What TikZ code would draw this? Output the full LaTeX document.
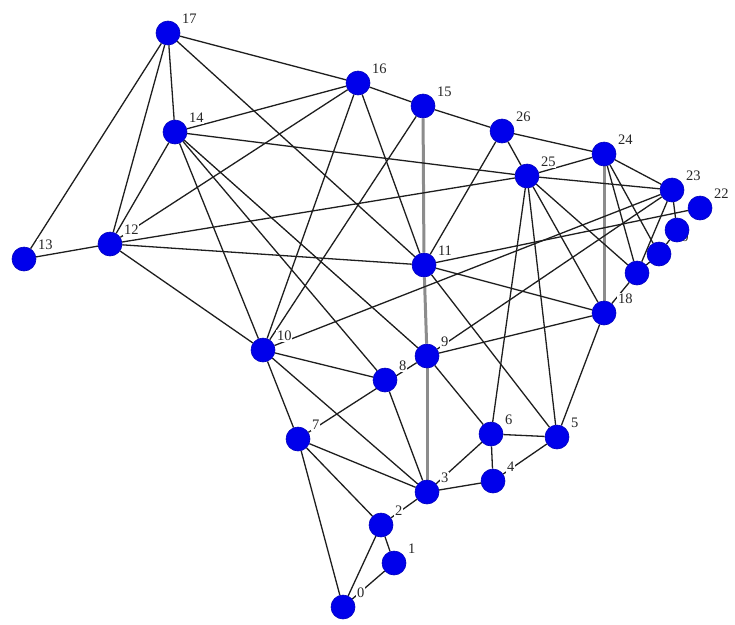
\documentclass[tikz,border=0pt]{standalone}
\usepackage{fontspec}
\setmainfont{Liberation Serif}
\definecolor{vblue}{RGB}{0,0,235}
\definecolor{edgec}{RGB}{30,30,30}
\definecolor{greyc}{RGB}{140,140,140}
\pgfdeclarelayer{bg}
\pgfdeclarelayer{mid}
\pgfsetlayers{bg,mid,main}
\begin{document}
\begin{tikzpicture}[x=1pt,y=-1pt,
  vtx/.style={circle,fill=vblue,draw=vblue!80!black,line width=0.6pt,minimum size=24pt,inner sep=0pt},
  lbl/.style={fill=white,inner sep=0.8pt,anchor=west,font=\fontsize{14.5}{14.5}\selectfont,text=black!85},
  edge/.style={draw=edgec,line width=1.3pt},
  gedge/.style={draw=greyc,line width=3pt}]
\path[use as bounding box] (0,0) rectangle (735,624);
% vertices
\node[vtx] (n0)  at (343,607) {};
\node[vtx] (n1)  at (394,563) {};
\node[vtx] (n2)  at (381,525) {};
\node[vtx] (n3)  at (427,492) {};
\node[vtx] (n4)  at (493,481) {};
\node[vtx] (n5)  at (557,437) {};
\node[vtx] (n6)  at (491,434) {};
\node[vtx] (n7)  at (298,439) {};
\node[vtx] (n8)  at (385,380) {};
\node[vtx] (n9)  at (427,356) {};
\node[vtx] (n10) at (263,350) {};
\node[vtx] (n11) at (424,265) {};
\node[vtx] (n12) at (110,244) {};
\node[vtx] (n13) at (24,259) {};
\node[vtx] (n14) at (175,132) {};
\node[vtx] (n15) at (423,106) {};
\node[vtx] (n16) at (358,83) {};
\node[vtx] (n17) at (168,33) {};
\node[vtx] (n18) at (604,313) {};
\node[vtx] (n19) at (637,273) {};
\node[vtx] (n20) at (659,254) {};
\node[vtx] (n21) at (677,230) {};
\node[vtx] (n22) at (700,208) {};
\node[vtx] (n23) at (672,190) {};
\node[vtx] (n24) at (604,154) {};
\node[vtx] (n25) at (527,176) {};
\node[vtx] (n26) at (502,131) {};
% labels
\begin{pgfonlayer}{mid}
\foreach \n in {0,1,2,3,4,5,6,7,8,9,10,11,12,13,14,15,16,17,18,22,23,24,25,26}
  \node[lbl] (l\n) at ([shift={(13pt,14pt)}]n\n.center) {\n};
\node[lbl] (l20) at ([shift={(14pt,17pt)}]n20.center) {20};
\end{pgfonlayer}
% edges
\begin{pgfonlayer}{bg}
\draw[gedge] (n15) -- (n11);
\draw[gedge] (n11) -- (n9);
\draw[gedge] (n9) -- (n3);
\draw[gedge] (n24) -- (n18);
\foreach \a/\b in {17/16,17/14,17/13,17/12,17/11,
  16/15,16/14,16/12,16/10,16/11,
  15/26,15/10,
  26/24,26/25,26/11,
  24/25,24/23,24/19,24/20,
  25/23,25/6,25/5,25/18,25/19,25/12,25/14,
  23/21,23/19,23/10,23/9,
  22/11,
  11/12,11/18,11/5,
  9/18,9/6,
  14/12,14/10,14/8,14/9,
  12/13,12/10,
  10/8,10/3,10/7,
  7/9,7/0,7/2,7/3,
  8/3,
  3/2,3/4,3/6,
  6/4,6/5,
  4/5,
  5/18,
  2/0,2/1,
  1/0,
  18/19,19/20,20/21}
  \draw[edge] (n\a) -- (n\b);
\end{pgfonlayer}
\end{tikzpicture}
\end{document}
